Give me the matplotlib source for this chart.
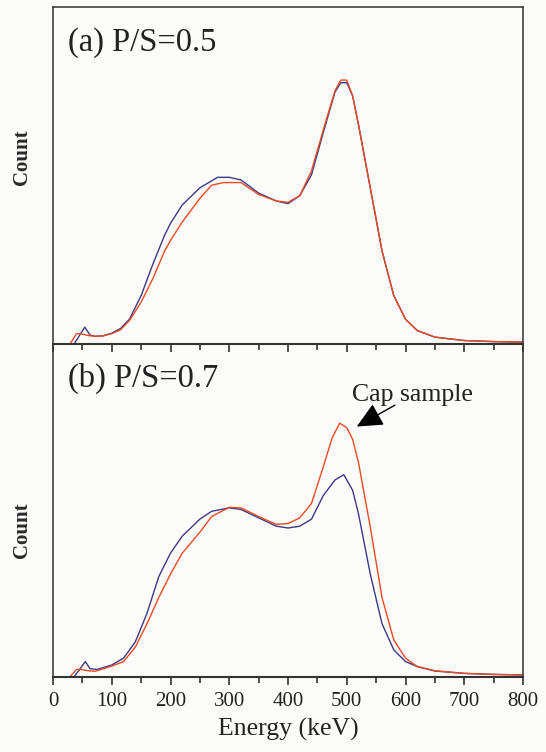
import matplotlib
matplotlib.use("Agg")
import matplotlib.pyplot as plt
from matplotlib.ticker import MultipleLocator

plt.rcParams['font.family'] = ['Liberation Serif', 'DejaVu Serif']

# ---- data (normalised counts vs energy in keV) ----
energy_a_blue = [37, 54, 63, 72, 85, 100, 115, 130, 150, 170, 190, 200, 220, 250, 280, 300, 320,
                 350, 380, 400, 420, 440, 460, 480, 490, 500, 510, 520, 540, 560, 580, 600, 620,
                 650, 700, 750, 800]
count_a_blue = [0.0, 0.06, 0.03, 0.025, 0.027, 0.037, 0.055, 0.09, 0.18, 0.30, 0.41, 0.455, 0.525,
                0.59, 0.63, 0.63, 0.62, 0.57, 0.54, 0.53, 0.56, 0.64, 0.80, 0.955, 0.99, 0.99,
                0.94, 0.83, 0.59, 0.35, 0.18, 0.09, 0.047, 0.022, 0.009, 0.005, 0.003]

energy_a_red = [30, 40, 47, 60, 72, 85, 100, 115, 130, 150, 170, 190, 200, 220, 250, 270, 290, 320,
                350, 380, 400, 420, 440, 460, 480, 490, 500, 510, 520, 540, 560, 580, 600, 620,
                650, 700, 750, 800]
count_a_red = [0.0, 0.035, 0.035, 0.028, 0.025, 0.027, 0.035, 0.05, 0.085, 0.155, 0.245, 0.35,
               0.39, 0.46, 0.55, 0.60, 0.61, 0.61, 0.565, 0.54, 0.535, 0.56, 0.655, 0.81, 0.96,
               1.0, 1.0, 0.94, 0.83, 0.59, 0.35, 0.18, 0.09, 0.047, 0.022, 0.009, 0.005, 0.003]

energy_b_blue = [37, 55, 63, 75, 100, 120, 140, 160, 180, 200, 220, 250, 270, 300, 320, 350, 380,
                 400, 420, 440, 460, 480, 495, 510, 520, 540, 560, 580, 600, 620, 650, 700, 750,
                 800]
count_b_blue = [0.0, 0.055, 0.028, 0.025, 0.042, 0.068, 0.13, 0.24, 0.38, 0.47, 0.535, 0.60, 0.63,
                0.643, 0.637, 0.605, 0.573, 0.566, 0.573, 0.60, 0.69, 0.75, 0.77, 0.71, 0.62,
                0.39, 0.20, 0.10, 0.055, 0.036, 0.019, 0.01, 0.006, 0.004]

energy_b_red = [30, 40, 47, 60, 72, 100, 120, 140, 160, 180, 200, 220, 250, 270, 300, 320, 350,
                380, 400, 420, 440, 460, 475, 488, 500, 510, 520, 540, 560, 580, 600, 620, 650,
                700, 750, 800]
count_b_red = [0.0, 0.025, 0.025, 0.02, 0.018, 0.038, 0.055, 0.11, 0.20, 0.30, 0.39, 0.47, 0.55,
               0.61, 0.645, 0.643, 0.61, 0.58, 0.583, 0.605, 0.66, 0.80, 0.91, 0.967, 0.95,
               0.905, 0.816, 0.57, 0.30, 0.138, 0.068, 0.036, 0.02, 0.01, 0.006, 0.004]

panel_labels = ["(a) P/S=0.5", "(b) P/S=0.7"]
xticks = [0, 100, 200, 300, 400, 500, 600, 700, 800]

BLUE = "#3d3a85"
RED = "#ec4a22"
FRAME = "#333333"
BG = "#fbfbf9"

fig = plt.figure(figsize=(5.46, 7.52), dpi=100, facecolor=BG)
ax_a = fig.add_axes([0.0971, 0.5426, 0.8608, 0.4481], facecolor=BG)
ax_b = fig.add_axes([0.0971, 0.0997, 0.8608, 0.4429], facecolor=BG)

panels = [
    (ax_a, energy_a_blue, count_a_blue, energy_a_red, count_a_red, (-0.004, 1.278)),
    (ax_b, energy_b_blue, count_b_blue, energy_b_red, count_b_red, (-0.004, 1.27)),
]

for i, (ax, eb, cb, er, cr, yl) in enumerate(panels):
    ax.plot(eb, cb, color=BLUE, lw=1.0)
    ax.plot(er, cr, color=RED, lw=1.0)
    ax.set_xlim(0, 800)
    ax.set_ylim(*yl)
    ax.set_yticks([])
    ax.xaxis.set_major_locator(MultipleLocator(100))
    ax.xaxis.set_minor_locator(MultipleLocator(50))
    ax.tick_params(axis='x', which='major', direction='out', length=5.5, width=1.2,
                   color=FRAME, labelsize=15, pad=5, top=False)
    ax.tick_params(axis='x', which='minor', direction='out', length=4.5, width=1.2,
                   color=FRAME, top=False)
    for s in ax.spines.values():
        s.set_color(FRAME)
        s.set_linewidth(1.1)
    ax.spines['bottom'].set_linewidth(1.5)
    ax.text(0.032, 0.87, panel_labels[i], transform=ax.transAxes, fontsize=23.5,
            va='baseline', ha='left', color='#222222')

ax_a.tick_params(axis='x', labelbottom=False)
ax_a.set_zorder(2)
ax_b.set_xticks(xticks)
ax_b.set_xticklabels([str(t) for t in xticks], color='#222222')
ax_b.set_xlabel("Energy (keV)", fontsize=18.5, labelpad=5, color='#222222')

# Count labels
for yc in (157, 530):
    fig.text(0.040, 1 - yc / 752, "Count", rotation=90, fontsize=15, fontweight='bold',
             ha='center', va='center', color='#2a2a2a')

# Cap sample annotation
ax_b.annotate("", xy=(517, 0.954), xytext=(582, 1.036),
              arrowprops=dict(arrowstyle='-|>,head_length=1.6,head_width=0.75',
                              color='black', lw=1.0, shrinkA=0, shrinkB=0))
ax_b.text(611, 1.053, "Cap sample", fontsize=18.5, ha='center', va='baseline', color='#222222')

fig.savefig("out.png", dpi=100, facecolor=BG)
